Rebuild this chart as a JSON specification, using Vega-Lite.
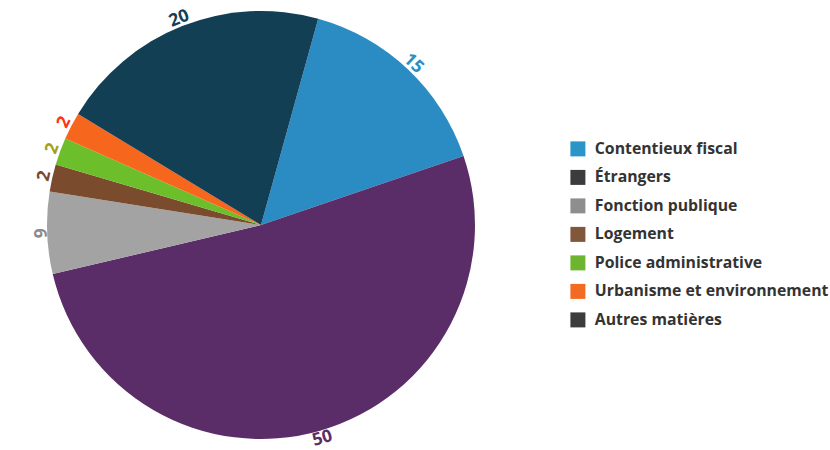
{
  "$schema": "https://vega.github.io/schema/vega-lite/v6.json",
  "width": 522,
  "height": 450,
  "padding": 0,
  "background": "white",
  "config": {"view": {"stroke": null}},
  "data": {"values": [
    {"order": 1, "matiere": "Contentieux fiscal", "value": 15},
    {"order": 2, "matiere": "Étrangers", "value": 50},
    {"order": 3, "matiere": "Fonction publique", "value": 6},
    {"order": 4, "matiere": "Logement", "value": 2},
    {"order": 5, "matiere": "Police administrative", "value": 2},
    {"order": 6, "matiere": "Urbanisme et environnement", "value": 2},
    {"order": 7, "matiere": "Autres matières", "value": 20}
  ]},
  "transform": [
    {"joinaggregate": [{"op": "sum", "field": "value", "as": "total"}]},
    {"stack": "value", "groupby": [], "sort": [{"field": "order"}], "as": ["v0", "v1"]},
    {"calculate": "((datum.v0 + datum.v1) / 2) / datum.total * 360 + 15.5", "as": "mid"},
    {"calculate": "(datum.mid > 90 && datum.mid < 270) ? datum.mid - 180 : datum.mid", "as": "labelAngle"}
  ],
  "layer": [
    {
      "mark": {"type": "arc", "outerRadius": 214, "stroke": null},
      "encoding": {
        "theta": {"field": "value", "type": "quantitative", "stack": true, "scale": {"range": [0.2705, 6.5537]}},
        "order": {"field": "order", "type": "quantitative"},
        "color": {"field": "matiere", "type": "nominal", "legend": null,
          "scale": {"domain": ["Contentieux fiscal", "Étrangers", "Fonction publique", "Logement", "Police administrative", "Urbanisme et environnement", "Autres matières"],
                    "range": ["#2b8cc4", "#5b2d68", "#a3a3a3", "#7b4b2e", "#6cbf2a", "#f7661d", "#133f55"]}}
      }
    },
    {
      "mark": {"type": "text", "radius": 222, "font": "Open Sans", "fontWeight": "bold", "fontSize": 17.5, "align": "center", "baseline": "middle"},
      "encoding": {
        "theta": {"field": "value", "type": "quantitative", "stack": true, "scale": {"range": [0.2705, 6.5537]}},
        "order": {"field": "order", "type": "quantitative"},
        "text": {"field": "value", "type": "quantitative"},
        "angle": {"field": "labelAngle", "type": "quantitative", "scale": null},
        "color": {"field": "matiere", "type": "nominal", "legend": null,
          "scale": {"domain": ["Contentieux fiscal", "Étrangers", "Fonction publique", "Logement", "Police administrative", "Urbanisme et environnement", "Autres matières"],
                    "range": ["#2a8fc0", "#5b2d68", "#8a8a8a", "#7b4b2e", "#a3a020", "#ff3512", "#133f55"]}}
      }
    },
    {
      "mark": {"type": "arc", "outerRadius": 214, "opacity": 0},
      "encoding": {
        "theta": {"field": "value", "type": "quantitative", "stack": true, "scale": {"range": [0.2705, 6.5537]}},
        "order": {"field": "order", "type": "quantitative"},
        "color": {"field": "matiere", "type": "nominal",
          "scale": {"domain": ["Contentieux fiscal", "Étrangers", "Fonction publique", "Logement", "Police administrative", "Urbanisme et environnement", "Autres matières"],
                    "range": ["#2b95c7", "#3c3c3e", "#8e8e8e", "#81573b", "#6cb62f", "#f36a22", "#3c3c3e"]},
          "legend": {"title": null, "orient": "none", "legendX": 570, "legendY": 141, "padding": 0,
            "symbolType": "square", "symbolSize": 225, "symbolOpacity": 1, "symbolStrokeWidth": 0,
            "labelFont": "Open Sans", "labelFontWeight": "bold", "labelFontSize": 15.8, "labelColor": "#333333",
            "labelOffset": 9, "rowPadding": 11.5, "labelLimit": 400}}
      }
    }
  ],
  "resolve": {"scale": {"color": "independent"}}
}
